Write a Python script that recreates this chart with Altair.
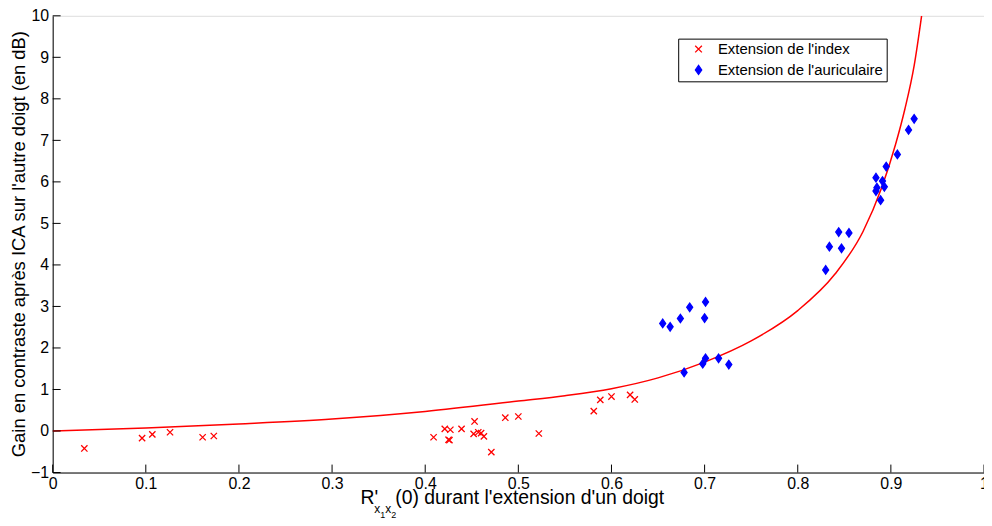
import altair as alt
import pandas as pd

# --- data ---
index_x = [0.034, 0.096, 0.107, 0.126, 0.161, 0.173,
           0.409, 0.421, 0.427, 0.425, 0.426, 0.439, 0.453, 0.452, 0.457, 0.460,
           0.463, 0.471, 0.486, 0.500, 0.522, 0.581, 0.588, 0.600, 0.620, 0.625]
index_y = [-0.42, -0.17, -0.08, -0.03, -0.15, -0.12,
           -0.15, 0.05, 0.03, -0.21, -0.22, 0.05, 0.23, -0.07, -0.03, -0.05,
           -0.13, -0.51, 0.32, 0.35, -0.06, 0.48, 0.75, 0.83, 0.87, 0.76]

auri_x = [0.655, 0.663, 0.674, 0.684, 0.701, 0.700, 0.678, 0.698, 0.701, 0.715, 0.726,
          0.925, 0.919, 0.907, 0.895, 0.884, 0.891, 0.885, 0.893, 0.884, 0.889,
          0.844, 0.855, 0.834, 0.847, 0.830]
auri_y = [2.59, 2.51, 2.71, 2.98, 3.11, 2.72, 1.41, 1.62, 1.75, 1.75, 1.60,
          7.52, 7.25, 6.66, 6.37, 6.10, 6.02, 5.86, 5.88, 5.78, 5.56,
          4.79, 4.77, 4.44, 4.40, 3.88]

curve_x = [0.0, 0.1, 0.2, 0.3, 0.4, 0.5, 0.55, 0.6, 0.65, 0.7, 0.75, 0.8,
           0.84, 0.87, 0.89, 0.905, 0.915, 0.925, 0.933]
curve_y = [0.0, 0.07, 0.17, 0.29, 0.47, 0.72, 0.85, 1.02, 1.28, 1.66, 2.17, 2.90,
           3.78, 4.80, 5.85, 6.90, 7.75, 8.80, 10.0]

series_names = ["Extension de l'index", "Extension de l'auriculaire"]
x_ticks = [0, 0.1, 0.2, 0.3, 0.4, 0.5, 0.6, 0.7, 0.8, 0.9, 1.0]
y_ticks = [-1, 0, 1, 2, 3, 4, 5, 6, 7, 8, 9, 10]

pts = pd.DataFrame({
    "x": index_x + auri_x,
    "y": index_y + auri_y,
    "serie": [series_names[0]] * len(index_x) + [series_names[1]] * len(auri_x),
})
curve = pd.DataFrame({"x": curve_x, "y": curve_y})

W, H = 938, 460
FONT = "Liberation Sans"

xs = alt.Scale(domain=[0, 1], nice=False, zero=False)
ys = alt.Scale(domain=[-1, 10], nice=False, zero=False)

X_PATH = "M-1,-1L1,1M-1,1L1,-1"
D_PATH = "M0,-1.35L0.95,0L0,1.35L-0.95,0Z"
COLORS = ["#FF0000", "#0000FF"]

line = alt.Chart(curve).mark_line(color="#FF0000", strokeWidth=1.5, interpolate="monotone", clip=True).encode(
    x=alt.X("x:Q", scale=xs,
            axis=alt.Axis(values=x_ticks, format="~g", title=None, ticks=False, grid=False,
                          domainColor="black", labelFontSize=16, labelFont=FONT,
                          labelColor="black", labelPadding=3, labelFlush=False)),
    y=alt.Y("y:Q", scale=ys,
            axis=alt.Axis(values=y_ticks, format="d", title=None, ticks=False, grid=False,
                          domainColor="black", labelFontSize=16, labelFont=FONT,
                          labelColor="black", labelPadding=4, labelFlush=False)),
)

leg = dict(title=None, orient="none", legendX=630, legendY=23,
           strokeColor="black", fillColor="white", padding=3,
           labelFont=FONT, labelFontSize=15, labelColor="black", labelLimit=400,
           symbolSize=45, symbolStrokeWidth=1.3, rowPadding=5, labelOffset=12,
           symbolOffset=10)

points = alt.Chart(pts).mark_point(filled=True, strokeWidth=1.3, size=40, opacity=1).encode(
    x=alt.X("x:Q", scale=xs),
    y=alt.Y("y:Q", scale=ys),
    shape=alt.Shape("serie:N", scale=alt.Scale(domain=series_names, range=[X_PATH, D_PATH]),
                    legend=alt.Legend(**leg)),
    fill=alt.Fill("serie:N", scale=alt.Scale(domain=series_names, range=COLORS),
                  legend=alt.Legend(**leg)),
    stroke=alt.Stroke("serie:N", scale=alt.Scale(domain=series_names, range=COLORS),
                      legend=alt.Legend(**leg)),
)

ytick_df = pd.DataFrame({"v": y_ticks})
xtick_df = pd.DataFrame({"v": x_ticks})
yticks = alt.Chart(ytick_df).mark_rule(color="black", strokeWidth=1).encode(
    y=alt.Y("v:Q", scale=ys), x=alt.value(0), x2=alt.value(8))
xticks = alt.Chart(xtick_df).mark_rule(color="black", strokeWidth=1).encode(
    x=alt.X("v:Q", scale=xs), y=alt.value(H - 8), y2=alt.value(H))

one = alt.Data(values=[{}])

def txt(s, x, y, size, angle=0, align="left", baseline="alphabetic"):
    return alt.Chart(one).mark_text(font=FONT, fontSize=size, color="black", align=align,
                                    baseline=baseline, angle=angle).encode(
        x=alt.value(x), y=alt.value(y), text=alt.value(s))

ytitle = txt("Gain en contraste après ICA sur l'autre doigt (en dB)", -34, 230, 18.5,
             angle=270, align="center", baseline="middle")
xt = [
    txt("R'", 310, 492, 19.5),
    txt("x", 324, 501, 12),
    txt("1", 330, 506, 9),
    txt("x", 335, 501, 12),
    txt("2", 341, 506, 9),
    txt("(0) durant l'extension d'un doigt", 345, 492, 19.5),
]

chart = alt.layer(line, points, yticks, xticks, ytitle, *xt).resolve_scale(
    x="shared", y="shared"
).properties(
    width=W, height=H,
    autosize=alt.AutoSizeParams(type="none"),
    padding={"left": 45, "top": 6, "right": 0, "bottom": 52},
).configure_view(stroke=None).configure(background="white")

chart.save("out.html", embed_options={"renderer": "svg", "actions": False})
